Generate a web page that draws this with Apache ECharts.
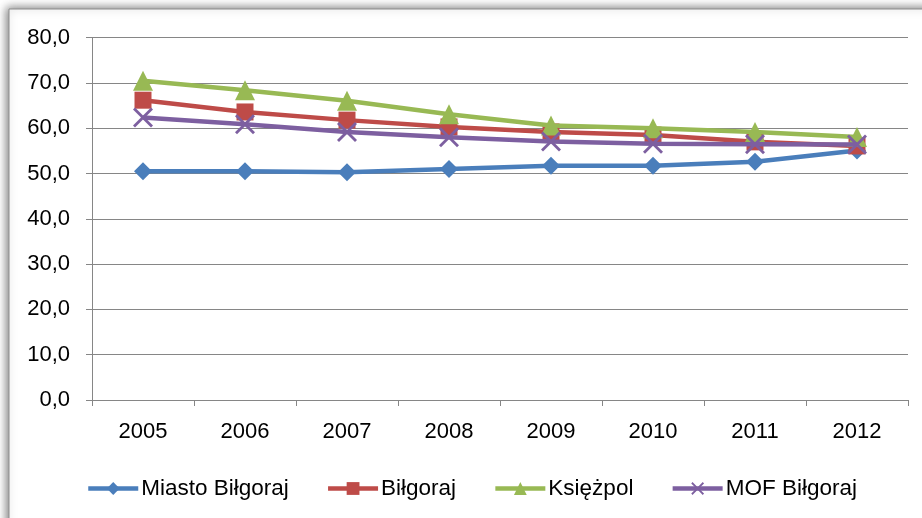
<!DOCTYPE html>
<html><head><meta charset="utf-8">
<script src="https://cdn.jsdelivr.net/npm/echarts@6/dist/echarts.min.js"></script>
<style>html,body{margin:0;padding:0;background:#fff}#c{width:922px;height:518px}</style>
</head><body><div id="c"></div>
<script>
const categories = ['2005','2006','2007','2008','2009','2010','2011','2012'];
const miasto = [50.5, 50.5, 50.3, 51.0, 51.7, 51.7, 52.6, 55.1];
const bilgoraj = [66.2, 63.6, 61.8, 60.3, 59.2, 58.5, 57.0, 56.1];
const ksiezpol = [70.5, 68.4, 66.1, 63.1, 60.6, 60.0, 59.2, 58.1];
const mof = [62.4, 60.9, 59.2, 58.0, 57.1, 56.6, 56.5, 56.4];
const seriesNames = ['Miasto Biłgoraj','Biłgoraj','Księżpol','MOF Biłgoraj'];
const yTicks = [0,10,20,30,40,50,60,70,80];

const X = 'path://M0,1L1,0L5,4L9,0L10,1L6,5L10,9L9,10L5,6L1,10L0,9L4,5Z';
const colors = ['#4A7EBB','#BE4B48','#98B954','#7D5FA0'];
const symbols = ['diamond','rect','triangle',X];
const sizes = [18,17,20,20];
const datas = [miasto,bilgoraj,ksiezpol,mof];
const font = '"Liberation Sans", Arial, sans-serif';

const chart = echarts.init(document.getElementById('c'));
chart.setOption({
  animation:false,
  graphic:[{type:'rect',z:-10,shape:{x:9,y:9,width:940,height:540},
    style:{fill:'#fff',stroke:'#8c8c8c',lineWidth:1,shadowBlur:9,shadowOffsetX:-2,shadowOffsetY:-1,shadowColor:'rgba(0,0,0,0.5)'}}],
  grid:{left:92,right:14,top:37.7,bottom:118,containLabel:false},
  legend:{top:472,left:81,itemWidth:50,itemHeight:16,itemGap:37,
    lineStyle:{width:4.5},
    textStyle:{fontFamily:font,fontSize:22.5,color:'#000',padding:[0,0,0,-2]},
    data:seriesNames},
  xAxis:{type:'category',data:categories,boundaryGap:true,
    axisLine:{lineStyle:{color:'#868686',width:1}},
    axisTick:{show:true,length:6,alignWithLabel:false,lineStyle:{color:'#868686'}},
    axisLabel:{fontFamily:font,fontSize:22,color:'#000',margin:21}},
  yAxis:{type:'value',min:0,max:80,interval:10,
    axisLine:{show:true,lineStyle:{color:'#868686',width:1}},
    axisTick:{show:true,length:6,lineStyle:{color:'#868686'}},
    splitLine:{lineStyle:{color:'#868686',width:1}},
    axisLabel:{fontFamily:font,fontSize:22,color:'#000',margin:22,formatter:v=>v.toFixed(1).replace('.',',')}},
  series:seriesNames.map((n,i)=>({name:n,type:'line',data:datas[i],symbol:symbols[i],symbolSize:sizes[i],
    showAllSymbol:true,itemStyle:{color:colors[i]},lineStyle:{color:colors[i],width:4.5},z:2+i}))
});
</script></body></html>
